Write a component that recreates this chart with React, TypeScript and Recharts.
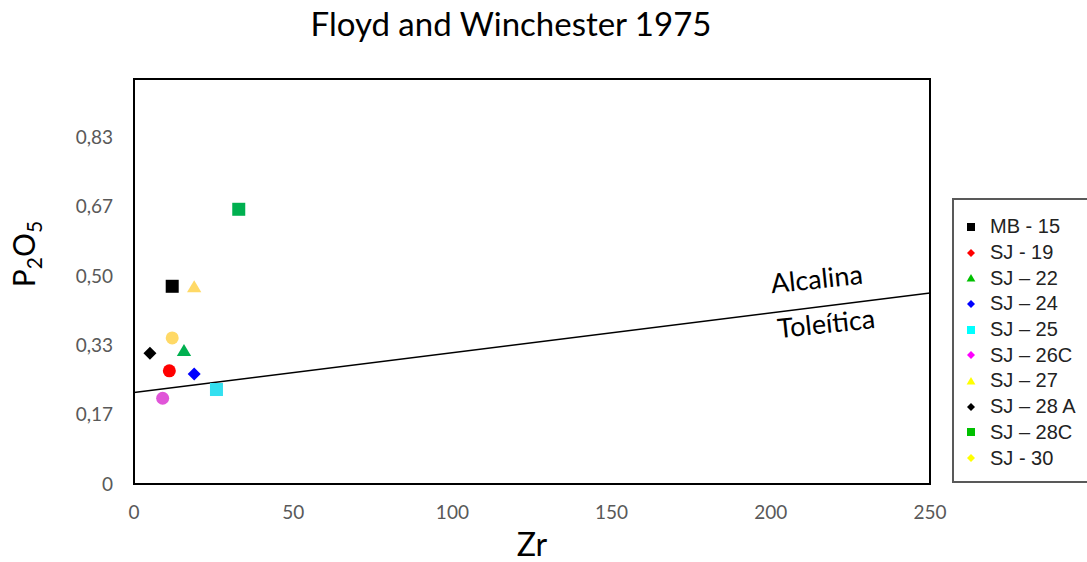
import React from 'react';
import { ScatterChart, Scatter, XAxis, YAxis, ReferenceArea, ReferenceLine } from 'recharts';

// Samples plotted on the Floyd & Winchester (1975) diagram
const sampleNames = ['MB - 15', 'SJ - 19', 'SJ – 22', 'SJ – 24', 'SJ – 25', 'SJ – 26C', 'SJ – 27', 'SJ – 28 A', 'SJ – 28C', 'SJ - 30'];
const zrValues = [12, 11.1, 15.7, 18.9, 25.9, 9, 18.9, 5, 32.9, 12];
const p2o5Values = [0.475, 0.272, 0.321, 0.264, 0.227, 0.206, 0.474, 0.314, 0.66, 0.351];

// marker shape + colour in the plot, and in the legend (they differ in the original)
const plotShapes = ['square', 'circle', 'triangle', 'diamond', 'square', 'circle', 'triangle', 'diamond', 'square', 'circle'];
const plotColors = ['#000000', '#ff0000', '#00b050', '#0000ff', '#33e0f0', '#e055d8', '#ffd966', '#000000', '#00b050', '#ffd966'];
const legendShapes = ['square', 'diamond', 'triangle', 'diamond', 'square', 'diamond', 'triangle', 'diamond', 'square', 'diamond'];
const legendColors = ['#000000', '#ff0000', '#00c000', '#0000ff', '#00ffff', '#ff00ff', '#ffff00', '#000000', '#00c000', '#ffff00'];

// dividing line Alcalina / Toleítica
const lineZr = [0, 250];
const lineP2o5 = [0.22, 0.459];

const xTicks = [0, 50, 100, 150, 200, 250];
const yTicks = [0, 1 / 6, 2 / 6, 3 / 6, 4 / 6, 5 / 6];
const yTickLabels = ['0', '0,17', '0,33', '0,50', '0,67', '0,83'];
const yMax = 0.973;

const fieldLabels = [
  { name: 'Alcalina', zr: 214.5, p2o5: 0.486 },
  { name: 'Toleítica', zr: 217.5, p2o5: 0.379 },
];

const FONT = 'Lato, "Open Sans", sans-serif';

const Marker = ({ kind, color, cx, cy, s }: { kind: string; color: string; cx: number; cy: number; s: number }) => {
  const h = s / 2;
  if (kind === 'square') return <rect x={cx - h} y={cy - h} width={s} height={s} fill={color} />;
  if (kind === 'circle') return <circle cx={cx} cy={cy} r={h} fill={color} />;
  if (kind === 'triangle')
    return <polygon points={`${cx},${cy - h} ${cx + h * 1.1},${cy + h * 0.85} ${cx - h * 1.1},${cy + h * 0.85}`} fill={color} />;
  return <polygon points={`${cx},${cy - h} ${cx + h},${cy} ${cx},${cy + h} ${cx - h},${cy}`} fill={color} />;
};

const YTick = (props: any) => {
  const { x, y, payload, index } = props;
  return (
    <text x={x} y={y} dy="0.35em" textAnchor="end" fontFamily={FONT} fontSize={19} fill="#595959">
      {yTickLabels[index] ?? payload.value}
    </text>
  );
};

const XTick = (props: any) => {
  const { x, y, payload } = props;
  return (
    <text x={x} y={y} dy="0.71em" textAnchor="middle" fontFamily={FONT} fontSize={19} fill="#595959">
      {payload.value}
    </text>
  );
};

const App: React.FC = () => {
  const points = sampleNames.map((name, i) => ({ name, zr: zrValues[i], p2o5: p2o5Values[i] }));

  return (
    <div style={{ position: 'absolute', left: 0, top: 0, width: 1087, height: 562, overflow: 'hidden', background: '#fff' }}>
      <div
        style={{
          position: 'absolute', left: 0, top: 3, width: 1022, textAlign: 'center',
          fontFamily: FONT, fontSize: 33, color: '#000', lineHeight: '40px',
        }}
      >
        Floyd and Winchester 1975
      </div>

      <ScatterChart width={1087} height={562} margin={{ top: 79, right: 157, bottom: 0, left: 0 }}>
        <XAxis
          type="number" dataKey="zr" domain={[0, 250]} ticks={xTicks} allowDataOverflow
          axisLine={false} tickLine={false} tickSize={22} tickMargin={0} height={78} tick={<XTick />}
          label={{
            content: (p: any) => (
              <text x={p.viewBox.x + p.viewBox.width / 2} y={556} textAnchor="middle" fontFamily={FONT} fontSize={32} fill="#000">
                Zr
              </text>
            ),
          }}
        />
        <YAxis
          type="number" dataKey="p2o5" domain={[0, yMax]} ticks={yTicks} allowDataOverflow
          axisLine={false} tickLine={false} tickSize={21} tickMargin={0} width={134} tick={<YTick />}
          label={{
            content: () => (
              <text transform="rotate(-90, 35, 254)" x={35} y={254} textAnchor="middle" fontFamily={FONT} fontSize={30} fill="#000">
                P<tspan fontSize={21} dy={7}>2</tspan>
                <tspan dy={-7}>O</tspan>
                <tspan fontSize={21} dy={7}>5</tspan>
              </text>
            ),
          }}
        />
        <ReferenceArea x1={0} x2={250} y1={0} y2={yMax} fill="none" fillOpacity={0} stroke="#000" strokeWidth={2} />
        <ReferenceLine
          segment={[{ x: lineZr[0], y: lineP2o5[0] }, { x: lineZr[1], y: lineP2o5[1] }]}
          stroke="#000" strokeWidth={1.5}
        />
        <Scatter
          data={fieldLabels} dataKey="p2o5" isAnimationActive={false}
          shape={(p: any) => (
            <text
              x={p.cx} y={p.cy} textAnchor="middle" dominantBaseline="middle"
              transform={`rotate(-6, ${p.cx}, ${p.cy})`}
              fontFamily={FONT} fontSize={27} fill="#000"
            >
              {p.payload.name}
            </text>
          )}
        />
        {points.map((pt, i) => (
          <Scatter
            key={pt.name} name={pt.name} data={[pt]} isAnimationActive={false}
            shape={(p: any) => <Marker kind={plotShapes[i]} color={plotColors[i]} cx={p.cx} cy={p.cy} s={13} />}
          />
        ))}
      </ScatterChart>

      <div
        style={{
          position: 'absolute', left: 952, top: 198, width: 140, height: 285, boxSizing: 'border-box',
          border: '2px solid #595959', paddingTop: 14,
        }}
      >
        {sampleNames.map((name, i) => (
          <div key={name} style={{ display: 'flex', alignItems: 'center', height: 25.7 }}>
            <svg width={36} height={20} style={{ flex: 'none' }}>
              <Marker kind={legendShapes[i]} color={legendColors[i]} cx={17} cy={10} s={8} />
            </svg>
            <span style={{ fontFamily: '"Liberation Sans", Arial, sans-serif', fontSize: 20, color: '#222', whiteSpace: 'nowrap' }}>
              {name}
            </span>
          </div>
        ))}
      </div>
    </div>
  );
};

export default App;
